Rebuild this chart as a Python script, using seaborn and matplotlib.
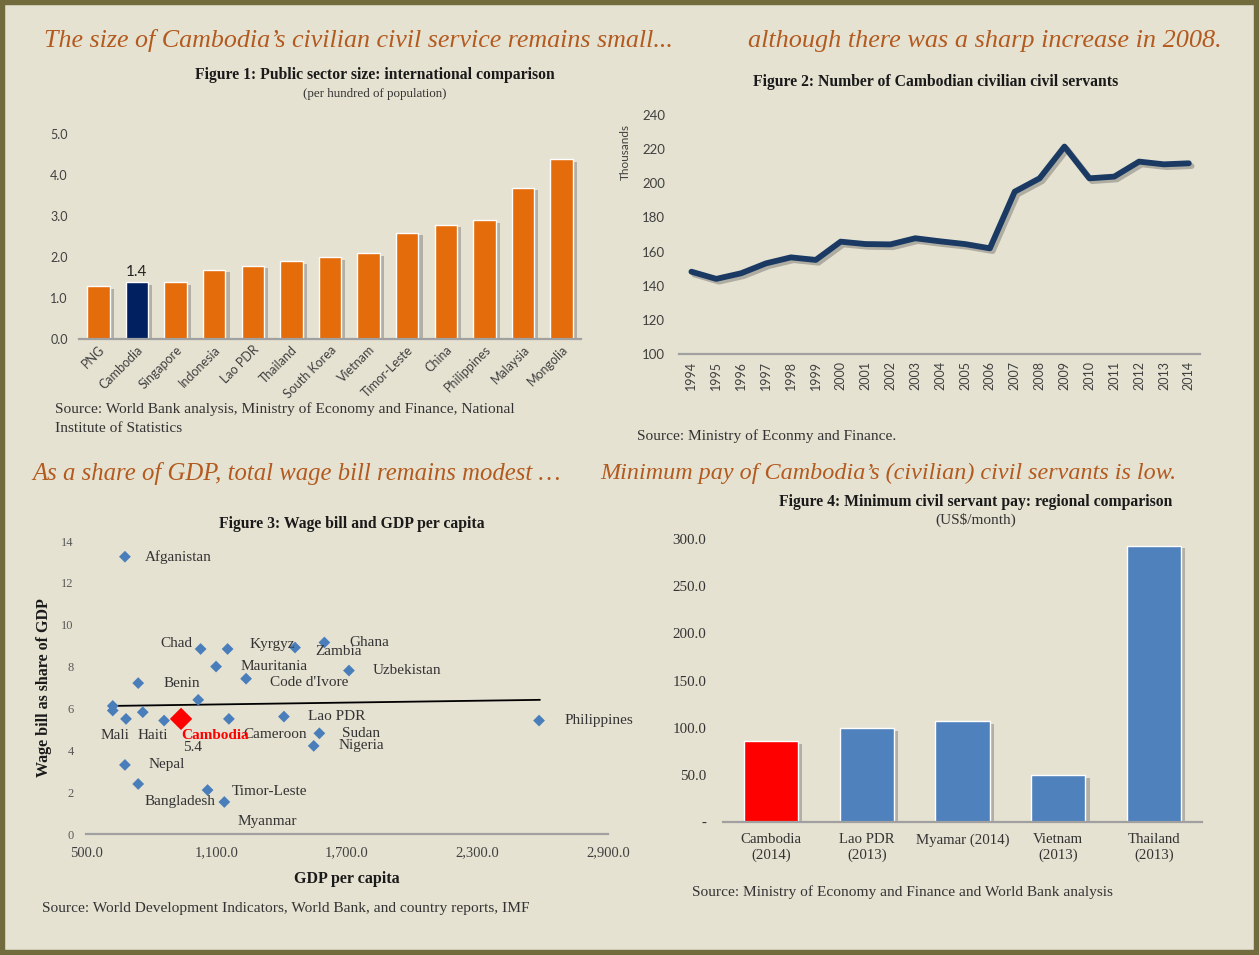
import numpy as np
import pandas as pd
import matplotlib
matplotlib.use("Agg")
import matplotlib.pyplot as plt
import matplotlib.patheffects as pe
from matplotlib.patches import Rectangle
from matplotlib.ticker import FixedLocator, FuncFormatter
import seaborn as sns

# ---------------- data ----------------
fig1_countries = ["PNG", "Cambodia", "Singapore", "Indonesia", "Lao PDR", "Thailand",
                  "South Korea", "Vietnam", "Timor-Leste", "China", "Philippines",
                  "Malaysia", "Mongolia"]
fig1_values = [1.3, 1.4, 1.4, 1.7, 1.8, 1.9, 2.0, 2.1, 2.6, 2.8, 2.9, 3.7, 4.4]

fig2_years = list(range(1994, 2015))
fig2_values = [148.2, 144.0, 147.3, 153.1, 156.6, 155.1, 165.8, 164.4, 164.2, 167.8,
               166.0, 164.4, 161.9, 195.1, 202.9, 221.5, 202.9, 203.9, 212.7, 211.1, 211.7]

fig3_names = ["Afganistan", "Chad", "Kyrgyz", "Mauritania", "Zambia", "Ghana",
              "Code d'Ivore", "Uzbekistan", "Benin", "", "", "", "Mali", "", "Haiti",
              "Cameroon", "Lao PDR", "Philippines", "Sudan", "Nigeria", "Nepal",
              "Bangladesh", "Timor-Leste", "Myanmar"]
fig3_gdp = [679, 1027, 1151, 1098, 1461, 1596, 1236, 1709, 740, 1016, 623, 623, 684,
            761, 859, 1157, 1410, 2583, 1573, 1547, 679, 740, 1059, 1136]
fig3_wage = [13.25, 8.84, 8.84, 8.0, 8.91, 9.15, 7.42, 7.81, 7.21, 6.41, 6.12, 5.9, 5.5,
             5.82, 5.42, 5.5, 5.61, 5.42, 4.81, 4.21, 3.3, 2.39, 2.1, 1.53]
cambodia_gdp = [937]
cambodia_wage = [5.5]
cambodia_label = "5.4"
trend_gdp = [623, 2587]
trend_wage = [6.12, 6.41]

fig4_labels = ["Cambodia\n(2014)", "Lao PDR\n(2013)", "Myamar (2014)", "Vietnam\n(2013)", "Thailand\n(2013)"]
fig4_values = [86, 100, 107, 50, 293]

# ---------------- style ----------------
W, H = 1259, 955
BG = "#E5E2D2"
BORDER = "#716B3E"
TITLE_C = "#B35A1F"
SERIF = ["Liberation Serif", "DejaVu Serif"]
SANS = ["Lato", "DejaVu Sans"]

sns.set_theme(style="white")
plt.rcParams["font.family"] = SERIF
plt.rcParams["axes.facecolor"] = BG
plt.rcParams["figure.facecolor"] = BG

fig = plt.figure(figsize=(W / 100, H / 100), dpi=100, facecolor=BG)


def fx(x):
    return x / W


def fy(y):
    return 1 - y / H


def add_ax(l, t, r, b):
    ax = fig.add_axes([fx(l), fy(b), (r - l) / W, (b - t) / H])
    ax.set_facecolor("none")
    for s in ["top", "right", "left"]:
        ax.spines[s].set_visible(False)
    ax.spines["bottom"].set_color("#A0A0A0")
    ax.spines["bottom"].set_linewidth(1.6)
    ax.tick_params(length=0)
    ax.set_xlabel("")
    ax.set_ylabel("")
    return ax


def ftext(x, y, s, **kw):
    fig.text(fx(x), fy(y), s, **kw)


# big italic headings
head_kw = dict(style="italic", color=TITLE_C, family=SERIF, va="center")
ftext(44, 41, "The size of Cambodia\u2019s civilian civil service remains small...", ha="left", fontsize=18.7, **head_kw)
ftext(1222, 41, "although there was a sharp increase in 2008.", ha="right", fontsize=18.9, **head_kw)
ftext(32, 473, "As a share of GDP, total wage bill remains modest \u2026", ha="left", fontsize=17.8, **head_kw)
ftext(1176, 473, "Minimum pay of Cambodia\u2019s (civilian) civil servants is low.", ha="right", fontsize=17.4, **head_kw)

fig_title_kw = dict(fontsize=11.3, fontweight="bold", color="#1a1a1a", family=SERIF, va="center", ha="center")
ftext(375, 75, "Figure 1: Public sector size: international comparison", **fig_title_kw)
ftext(375, 94, "(per hundred of population)", fontsize=9.4, color="#333333", ha="center", va="center")
ftext(936, 82, "Figure 2: Number of Cambodian civilian civil servants", **fig_title_kw)
ftext(352, 524, "Figure 3: Wage bill and GDP per capita", **fig_title_kw)
ftext(976, 502, "Figure 4: Minimum civil servant pay: regional comparison", **fig_title_kw)
ftext(976, 520, "(US$/month)", fontsize=11, color="#333333", ha="center", va="center")

src_kw = dict(fontsize=11.1, color="#333333", family=SERIF, va="center", ha="left")
ftext(55, 409, "Source: World Bank analysis, Ministry of Economy and Finance, National", **src_kw)
ftext(55, 428, "Institute of Statistics", **src_kw)
ftext(637, 436, "Source: Ministry of Econmy and Finance.", **src_kw)
ftext(42, 908, "Source: World Development Indicators, World Bank, and country reports, IMF", **src_kw)
ftext(692, 892, "Source: Ministry of Economy and Finance and World Bank analysis", **src_kw)

bar_shadow = [pe.SimplePatchShadow(offset=(3, -2), shadow_rgbFace="#555555", alpha=0.35), pe.Normal()]

# ---------------- Figure 1 ----------------
ax1 = add_ax(79, 134.3, 581, 339.3)
df1 = pd.DataFrame({"country": fig1_countries, "value": fig1_values})
pal1 = {c: ("#002060" if c == "Cambodia" else "#E46C0A") for c in fig1_countries}
sns.barplot(data=df1, x="country", y="value", hue="country", palette=pal1, legend=False,
            width=0.58, saturation=1, ax=ax1)
for p in ax1.patches:
    p.set_path_effects(bar_shadow)
ax1.set_ylim(0, 5)
ax1.set_xlim(-0.5, len(fig1_countries) - 0.5)
ax1.yaxis.set_major_locator(FixedLocator([0, 1, 2, 3, 4, 5]))
ax1.yaxis.set_major_formatter(FuncFormatter(lambda v, _: f"{v:.1f}"))
ax1.set_xlabel("")
ax1.set_ylabel("")
ax1.tick_params(axis="y", labelsize=9, labelcolor="#404040", pad=8)
ax1.tick_params(axis="x", labelsize=9, labelcolor="#404040", pad=3)
for lab in ax1.get_yticklabels():
    lab.set_family(SANS)
plt.setp(ax1.get_xticklabels(), rotation=45, ha="right", rotation_mode="anchor", family=SANS)
ci = fig1_countries.index("Cambodia")
ax1.text(ci, fig1_values[ci] + 0.08, f"{fig1_values[ci]:.1f}", ha="center", va="bottom",
         fontsize=11, color="#222222", family=SANS)

# ---------------- Figure 2 ----------------
ax2 = add_ax(679, 115, 1200, 354)
sns.lineplot(x=fig2_years, y=fig2_values, ax=ax2, color="#1B3A63", linewidth=4.2,
             solid_joinstyle="round", solid_capstyle="round",
             path_effects=[pe.SimpleLineShadow(offset=(2, -2), shadow_color="#333333", alpha=0.3), pe.Normal()])
ax2.set_ylim(100, 240)
ax2.set_xlim(1993.5, 2014.45)
ax2.yaxis.set_major_locator(FixedLocator(list(range(100, 241, 20))))
ax2.xaxis.set_major_locator(FixedLocator(fig2_years))
ax2.xaxis.set_major_formatter(FuncFormatter(lambda v, _: f"{int(v)}"))
ax2.set_xlabel("")
ax2.set_ylabel("")
ax2.tick_params(axis="y", labelsize=9.5, labelcolor="#404040", pad=10)
ax2.tick_params(axis="x", labelsize=9, labelcolor="#404040", pad=5)
for lab in ax2.get_yticklabels():
    lab.set_family(SANS)
plt.setp(ax2.get_xticklabels(), rotation=90, family=SANS)
ftext(625, 152, "Thousands", rotation=90, fontsize=8.5, color="#404040", family=SANS, ha="center", va="center")

# ---------------- Figure 3 ----------------
ax3 = add_ax(86, 541, 608, 834)
df3 = pd.DataFrame({"gdp": fig3_gdp, "wage": fig3_wage, "name": fig3_names})
sns.lineplot(x=trend_gdp, y=trend_wage, ax=ax3, color="black", linewidth=1.3)
sns.scatterplot(data=df3, x="gdp", y="wage", ax=ax3, marker="D", s=36, color="#4A7EBB",
                edgecolor="none", zorder=3)
sns.scatterplot(x=cambodia_gdp, y=cambodia_wage, ax=ax3, marker="D", s=130, color="#FF0000",
                edgecolor="none", zorder=4)
ax3.set_xlim(500, 2900)
ax3.set_ylim(0, 14)
ax3.xaxis.set_major_locator(FixedLocator([500, 1100, 1700, 2300, 2900]))
ax3.xaxis.set_major_formatter(FuncFormatter(lambda v, _: f"{v:,.1f}"))
ax3.yaxis.set_major_locator(FixedLocator(list(range(0, 15, 2))))
ax3.tick_params(axis="y", labelsize=9, labelcolor="#595959", pad=9)
ax3.tick_params(axis="x", labelsize=10.5, labelcolor="#404040", pad=9)
ax3.set_xlabel("GDP per capita", fontsize=11.5, fontweight="bold", color="#1a1a1a", labelpad=8)
ax3.set_ylabel("")
ftext(44, 688, "Wage bill as share of GDP", rotation=90, fontsize=11.5, fontweight="bold",
      color="#1a1a1a", ha="center", va="center")

label_offsets = {
    "Afganistan": (20, 0, "left"), "Chad": (-8, 5, "right"), "Kyrgyz": (22, 4, "left"),
    "Mauritania": (24, 0, "left"), "Zambia": (20, -4, "left"), "Ghana": (25, 0, "left"),
    "Code d'Ivore": (24, -4, "left"), "Uzbekistan": (24, 0, "left"), "Benin": (25, 0, "left"),
    "Mali": (-11, -17, "center"), "Haiti": (-11, -15, "center"), "Cameroon": (14, -16, "left"),
    "Lao PDR": (24, 0, "left"), "Philippines": (25, 0, "left"), "Sudan": (23, 0, "left"),
    "Nigeria": (25, 0, "left"), "Nepal": (24, 0, "left"), "Bangladesh": (42, -18, "center"),
    "Timor-Leste": (24, -1, "left"), "Myanmar": (13, -20, "left"),
}
for n, gx, wy in zip(fig3_names, fig3_gdp, fig3_wage):
    if n in label_offsets:
        dx, dy, ha = label_offsets[n]
        ax3.annotate(n, (gx, wy), xytext=(dx, dy), textcoords="offset pixels", ha=ha, va="center",
                     fontsize=11, color="#333333", family=SERIF)
ax3.annotate("Cambodia", (cambodia_gdp[0], cambodia_wage[0]), xytext=(0, -17), textcoords="offset pixels",
             ha="left", va="center", fontsize=11, color="#FF0000", fontweight="bold", family=SERIF)
ax3.annotate(cambodia_label, (cambodia_gdp[0], cambodia_wage[0]), xytext=(12, -29), textcoords="offset pixels",
             ha="center", va="center", fontsize=11, color="#333333", family=SERIF)

# ---------------- Figure 4 ----------------
ax4 = add_ax(723, 539, 1202, 822.3)
df4 = pd.DataFrame({"country": fig4_labels, "pay": fig4_values})
pal4 = {c: ("#FF0000" if c.startswith("Cambodia") else "#4F81BD") for c in fig4_labels}
sns.barplot(data=df4, x="country", y="pay", hue="country", palette=pal4, legend=False,
            width=0.567, saturation=1, ax=ax4)
for p in ax4.patches:
    p.set_path_effects(bar_shadow)
ax4.set_ylim(0, 300)
ax4.set_xlim(-0.5, len(fig4_labels) - 0.5)
ax4.yaxis.set_major_locator(FixedLocator(list(range(0, 301, 50))))
ax4.yaxis.set_major_formatter(FuncFormatter(lambda v, _: "-" if v == 0 else f"{v:.1f}"))
ax4.set_xlabel("")
ax4.set_ylabel("")
ax4.tick_params(axis="y", labelsize=10.8, labelcolor="#333333", pad=12)
ax4.tick_params(axis="x", labelsize=10.7, labelcolor="#333333", pad=8)
plt.setp(ax4.get_xticklabels(), linespacing=1.2)

# frame
fig.patches.append(Rectangle((0, 0), 1, 1, transform=fig.transFigure, fill=False,
                             edgecolor=BORDER, linewidth=7.5, zorder=10))

fig.savefig("out.png", dpi=100, facecolor=BG)
